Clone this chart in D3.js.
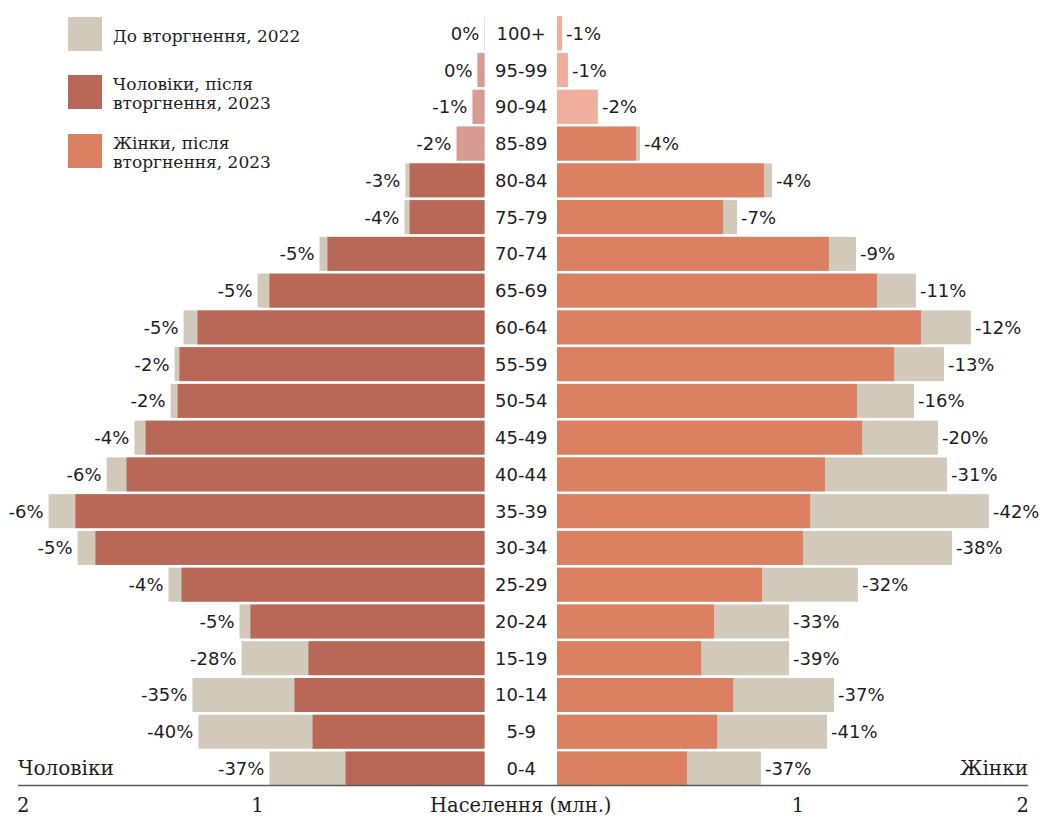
<!DOCTYPE html>
<html>
<head>
<meta charset="utf-8">
<script src="https://cdn.jsdelivr.net/npm/d3@7"></script>
<style>
  html, body { margin: 0; padding: 0; background: #fff; }
  svg { display: block; }
</style>
</head>
<body>
<svg id="chart" width="1043" height="817"></svg>
<script>
// ---- Data (population, millions) ----
const ageGroups = ["100+","95-99","90-94","85-89","80-84","75-79","70-74","65-69","60-64","55-59","50-54","45-49","40-44","35-39","30-34","25-29","20-24","15-19","10-14","5-9","0-4"];

const men2022 = [0.001,0.030,0.052,0.121,0.341,0.345,0.711,0.978,1.297,1.336,1.353,1.509,1.629,1.879,1.754,1.362,1.056,1.047,1.259,1.233,0.927];
const men2023 = [0.001,0.030,0.051,0.119,0.323,0.323,0.677,0.927,1.237,1.315,1.323,1.461,1.543,1.763,1.677,1.306,1.009,0.759,0.819,0.741,0.599];

const women2022 = [0.022,0.047,0.177,0.358,0.927,0.776,1.289,1.547,1.784,1.668,1.539,1.642,1.681,1.862,1.703,1.297,1.000,1.000,1.194,1.164,0.879];
const women2023 = [0.022,0.046,0.173,0.341,0.892,0.716,1.172,1.379,1.569,1.453,1.293,1.315,1.155,1.091,1.060,0.884,0.677,0.621,0.759,0.690,0.560];

const menChange = ["0%","0%","-1%","-2%","-3%","-4%","-5%","-5%","-5%","-2%","-2%","-4%","-6%","-6%","-5%","-4%","-5%","-28%","-35%","-40%","-37%"];
const womenChange = ["-1%","-1%","-2%","-4%","-4%","-7%","-9%","-11%","-12%","-13%","-16%","-20%","-31%","-42%","-38%","-32%","-33%","-39%","-37%","-41%","-37%"];

const axisTicks = [1, 2];
const axisTitle = "Населення (млн.)";
const leftTitle = "Чоловіки";
const rightTitle = "Жінки";
const legendItems = [
  {key: "before", lines: ["До вторгнення, 2022"]},
  {key: "men", lines: ["Чоловіки, після", "вторгнення, 2023"]},
  {key: "women", lines: ["Жінки, після", "вторгнення, 2023"]}
];

// ---- Styles ----
const C = {
  before: "#d1cabb",
  men: "#b96858",
  women: "#dc8062",
  menLight: "#d89b94",
  womenLight: "#f2ae9c",
  text: "#1e1e1e",
  axis: "#5a5a5a"
};
const sansFont = "'DejaVu Sans', sans-serif";
const serifFont = "'DejaVu Serif', serif";
const smallThreshold = 0.2;

const svg = d3.select("#chart");

const leftEdge = 484.5, rightEdge = 557;
const pxPerUnit = 232;
const xLeft = d3.scaleLinear().domain([0, 2]).range([leftEdge, leftEdge - 2 * pxPerUnit]);
const xRight = d3.scaleLinear().domain([0, 2]).range([rightEdge, rightEdge + 2 * pxPerUnit]);
const y = d3.scaleBand().domain(ageGroups).range([16.3, 785.5]).paddingInner(0.075).paddingOuter(0);

const rows = ageGroups.map((a, i) => ({
  age: a, m22: men2022[i], m23: men2023[i], w22: women2022[i], w23: women2023[i],
  mc: menChange[i], wc: womenChange[i]
}));

// Men bars
const gM = svg.append("g");
gM.selectAll("rect.m22").data(rows).join("rect")
  .attr("x", d => xLeft(d.m22)).attr("y", d => y(d.age))
  .attr("width", d => xLeft(0) - xLeft(d.m22)).attr("height", y.bandwidth())
  .attr("fill", C.before);
gM.selectAll("rect.m23").data(rows).join("rect")
  .attr("x", d => xLeft(d.m23)).attr("y", d => y(d.age))
  .attr("width", d => xLeft(0) - xLeft(d.m23)).attr("height", y.bandwidth())
  .attr("fill", d => d.m23 < smallThreshold ? C.menLight : C.men);

// Women bars
const gW = svg.append("g");
gW.selectAll("rect.w22").data(rows).join("rect")
  .attr("x", xRight(0)).attr("y", d => y(d.age))
  .attr("width", d => xRight(d.w22) - xRight(0)).attr("height", y.bandwidth())
  .attr("fill", C.before);
gW.selectAll("rect.w23").data(rows).join("rect")
  .attr("x", xRight(0)).attr("y", d => y(d.age))
  .attr("width", d => xRight(d.w23) - xRight(0)).attr("height", y.bandwidth())
  .attr("fill", d => d.w23 < smallThreshold ? C.womenLight : C.women);

// Age labels
svg.append("g").selectAll("text").data(rows).join("text")
  .attr("x", (leftEdge + rightEdge) / 2 + 0.5)
  .attr("y", d => y(d.age) + y.bandwidth() / 2)
  .attr("dy", "0.36em")
  .attr("text-anchor", "middle")
  .attr("font-family", sansFont).attr("font-size", 18)
  .attr("fill", C.text)
  .text(d => d.age);

// Change labels
svg.append("g").selectAll("text").data(rows).join("text")
  .attr("x", d => xLeft(Math.max(d.m22, d.m23)) - 5)
  .attr("y", d => y(d.age) + y.bandwidth() / 2)
  .attr("dy", "0.36em")
  .attr("text-anchor", "end")
  .attr("font-family", sansFont).attr("font-size", 18)
  .attr("fill", C.text)
  .text(d => d.mc);
svg.append("g").selectAll("text").data(rows).join("text")
  .attr("x", d => xRight(Math.max(d.w22, d.w23)) + 4)
  .attr("y", d => y(d.age) + y.bandwidth() / 2)
  .attr("dy", "0.36em")
  .attr("text-anchor", "start")
  .attr("font-family", sansFont).attr("font-size", 18)
  .attr("fill", C.text)
  .text(d => d.wc);

// Axis line
const axisY = 785.5;
svg.append("line")
  .attr("x1", 18).attr("x2", 1028)
  .attr("y1", axisY).attr("y2", axisY)
  .attr("stroke", C.axis).attr("stroke-width", 1.6);

// Tick labels
const tickG = svg.append("g")
  .attr("font-family", serifFont).attr("font-size", 19.5).attr("fill", C.text);
axisTicks.forEach(t => {
  const last = t === d3.max(axisTicks);
  tickG.append("text")
    .attr("x", last ? 17 : xLeft(t) + 5)
    .attr("y", 812)
    .attr("text-anchor", last ? "start" : "middle")
    .text(t);
  tickG.append("text")
    .attr("x", last ? 1029 : xRight(t) + 9)
    .attr("y", 812)
    .attr("text-anchor", last ? "end" : "middle")
    .text(t);
});
tickG.append("text")
  .attr("x", (leftEdge + rightEdge) / 2).attr("y", 812)
  .attr("text-anchor", "middle").text(axisTitle);

// Side titles
svg.append("text")
  .attr("x", 18).attr("y", 775)
  .attr("font-family", serifFont).attr("font-size", 20).attr("fill", C.text)
  .text(leftTitle);
svg.append("text")
  .attr("x", 1028).attr("y", 775).attr("text-anchor", "end")
  .attr("font-family", serifFont).attr("font-size", 20).attr("fill", C.text)
  .text(rightTitle);

// Legend
const legendTops = [17, 75, 134];
const legend = svg.append("g");
legendItems.forEach((item, i) => {
  const top = legendTops[i];
  legend.append("rect")
    .attr("x", 68).attr("y", top).attr("width", 34).attr("height", 34)
    .attr("fill", C[item.key]);
  const n = item.lines.length;
  item.lines.forEach((ln, j) => {
    legend.append("text")
      .attr("x", 113)
      .attr("y", top + 18.5 + (j - (n - 1) / 2) * 18.5)
      .attr("dy", "0.36em")
      .attr("font-family", serifFont).attr("font-size", 17).attr("fill", C.text)
      .text(ln);
  });
});
</script>
</body>
</html>
